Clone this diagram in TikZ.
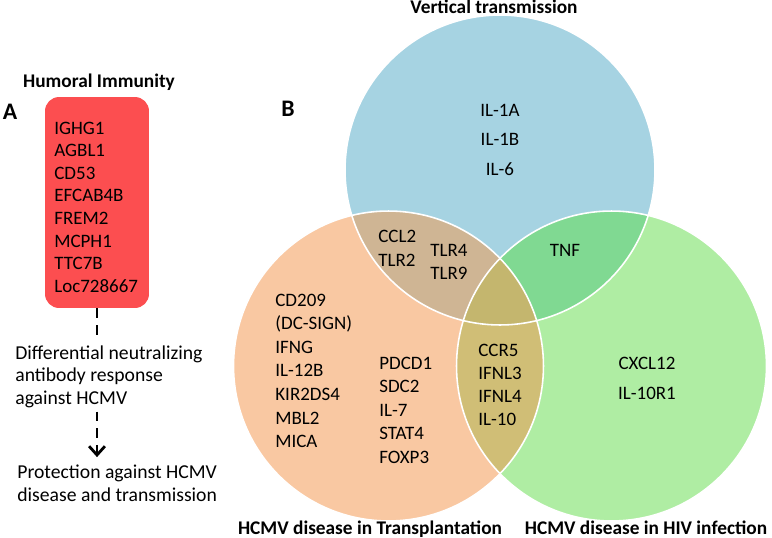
\documentclass[tikz,border=0pt]{standalone}
\usepackage{fontspec}
\setmainfont{Carlito}
\usetikzlibrary{arrows.meta}

\definecolor{humred}{RGB}{252,78,80}
\definecolor{vtblue}{RGB}{166,211,226}
\definecolor{txorange}{RGB}{249,200,162}
\definecolor{hivgreen}{RGB}{175,237,163}
\definecolor{vttx}{RGB}{207,181,148}
\definecolor{vthiv}{RGB}{128,217,146}
\definecolor{txhiv}{RGB}{208,190,118}
\definecolor{allthree}{RGB}{196,182,110}

\tikzset{
  gene/.style={inner sep=0pt, anchor=base west, font=\fontsize{10.8}{12.9}\selectfont},
  genec/.style={gene, anchor=base},
  note/.style={inner sep=0pt, anchor=north west, align=left, font=\fontsize{11.2}{12.9}\selectfont},
  setlabel/.style={inner sep=0pt, anchor=base, font=\fontsize{11}{12}\selectfont\bfseries},
  panel/.style={inner sep=0pt, anchor=base, font=\fontsize{13.5}{15}\selectfont\bfseries},
  humbox/.style={fill=humred, rounded corners=8pt, minimum width=2.08cm, minimum height=4.22cm, inner sep=0pt},
  dashline/.style={line width=1.6pt, dash pattern=on 5.5pt off 4pt},
  rim/.style={draw=white, line width=0.9pt},
}

\begin{document}
\begin{tikzpicture}[x=0.02cm, y=-0.02cm]
\useasboundingbox (0,0) rectangle (772,538);

% panel A
\node[panel] (pa) at (10,119) {A};
\node[setlabel] (humlab) at (99,87) {Humoral Immunity};
\node[humbox] (hbox) at (97,202.5) {};
\foreach \g [count=\i] in {IGHG1,AGBL1,CD53,EFCAB4B,FREM2,MCPH1,TTC7B,Loc728667}
  \node[gene] (hg\i) at (54,{134+22.6*(\i-1)}) {\g};

\node[note] (diffresp) at (15,345)
  {Differential neutralizing\\antibody response\\against HCMV};
\node[note] (protect) at (17,465)
  {Protection against HCMV\\disease and transmission};

\draw[dashline, shorten >=4pt] (hbox.south) -- (hbox.south |- diffresp.north);
\draw[dashline, -{Straight Barb[length=5pt,width=9pt]}, shorten <=2pt, shorten >=4.5pt]
  (hbox.south |- diffresp.south) -- (hbox.south |- protect.north);

% panel B
\node[panel] (pb) at (288,116) {B};

\coordinate (vt) at (500,170);
\coordinate (tx) at (388.5,366);
\coordinate (hiv) at (611.5,366);

\fill[vtblue] (vt) circle (3.1cm);
\fill[txorange] (tx) circle (3.1cm);
\fill[hivgreen] (hiv) circle (3.1cm);
\begin{scope}
  \clip (tx) circle (3.1cm);
  \fill[txhiv] (hiv) circle (3.1cm);
\end{scope}
\begin{scope}
  \clip (vt) circle (3.1cm);
  \fill[vttx] (tx) circle (3.1cm);
  \fill[vthiv] (hiv) circle (3.1cm);
  \clip (tx) circle (3.1cm);
  \fill[allthree] (hiv) circle (3.1cm);
\end{scope}
\draw[rim] (vt) circle (3.1cm);
\draw[rim] (tx) circle (3.1cm);
\draw[rim] (hiv) circle (3.1cm);

\node[setlabel] (vtlab) at (494,13) {Vertical transmission};
\node[setlabel] (txlab) at (370,534) {HCMV disease in Transplantation};
\node[setlabel] (hivlab) at (646,534) {HCMV disease in HIV infection};

% genes in the sets
\foreach \g [count=\i] in {IL-1A,IL-1B,IL-6}
  \node[genec] (vt\i) at (500,{116+29.5*(\i-1)}) {\g};
\foreach \g [count=\i] in {CCL2,TLR2}
  \node[gene] (vx\i) at (378,{242+24*(\i-1)}) {\g};
\foreach \g [count=\i] in {TLR4,TLR9}
  \node[gene] (vy\i) at (430,{256+23.5*(\i-1)}) {\g};
\node[genec] (tnf) at (565,256) {TNF};
\foreach \g [count=\i] in {CD209,(DC-SIGN),IFNG,IL-12B,KIR2DS4,MBL2,MICA}
  \node[gene] (tx\i) at (275,{306+23.6*(\i-1)}) {\g};
\foreach \g [count=\i] in {PDCD1,SDC2,IL-7,STAT4,FOXP3}
  \node[gene] (ty\i) at (379,{369+23.5*(\i-1)}) {\g};
\foreach \g [count=\i] in {CCR5,IFNL3,IFNL4,IL-10}
  \node[gene] (th\i) at (478,{356+23.3*(\i-1)}) {\g};
\foreach \g [count=\i] in {CXCL12,IL-10R1}
  \node[genec] (hv\i) at (647,{369+30*(\i-1)}) {\g};
\end{tikzpicture}
\end{document}
